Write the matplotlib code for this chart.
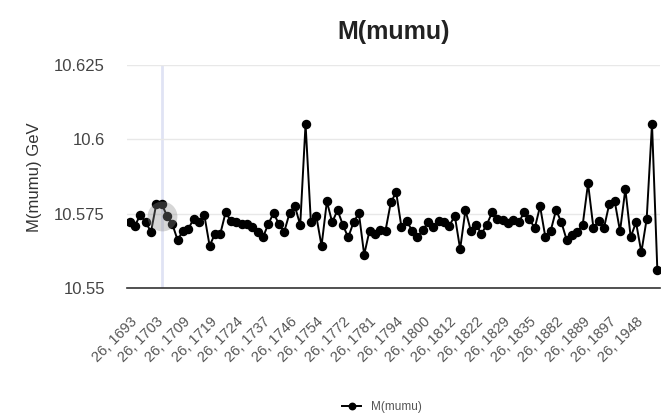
import matplotlib
matplotlib.use("Agg")
import matplotlib.pyplot as plt

# run labels shown on the x axis (every 5th point)
run_labels = ["26, 1693", "26, 1703", "26, 1709", "26, 1719", "26, 1724",
              "26, 1737", "26, 1746", "26, 1754", "26, 1772", "26, 1781",
              "26, 1794", "26, 1800", "26, 1812", "26, 1822", "26, 1829",
              "26, 1835", "26, 1882", "26, 1889", "26, 1897", "26, 1948"]
label_step = 5

# fitted dimuon mass per run (GeV)
mass = [10.5721, 10.5710, 10.5746, 10.5721, 10.5689, 10.5783, 10.5783, 10.5743, 10.5715, 10.5661,
        10.5693, 10.5699, 10.5732, 10.5721, 10.5746, 10.5642, 10.5682, 10.5682, 10.5754, 10.5726,
        10.5721, 10.5715, 10.5715, 10.5704, 10.5687, 10.5670, 10.5715, 10.5752, 10.5715, 10.5689,
        10.5752, 10.5775, 10.5712, 10.6052, 10.5721, 10.5743, 10.5642, 10.5791, 10.5721, 10.5762,
        10.5712, 10.5670, 10.5721, 10.5752, 10.5612, 10.5693, 10.5682, 10.5695, 10.5693, 10.5788,
        10.5822, 10.5704, 10.5724, 10.5693, 10.5670, 10.5695, 10.5721, 10.5704, 10.5724, 10.5721,
        10.5710, 10.5743, 10.5631, 10.5762, 10.5693, 10.5712, 10.5682, 10.5713, 10.5754, 10.5732,
        10.5729, 10.5719, 10.5730, 10.5721, 10.5754, 10.5732, 10.5701, 10.5775, 10.5670, 10.5693,
        10.5762, 10.5721, 10.5661, 10.5679, 10.5689, 10.5713, 10.5852, 10.5703, 10.5725, 10.5703,
        10.5784, 10.5792, 10.5691, 10.5833, 10.5671, 10.5721, 10.5620, 10.5732, 10.6052, 10.5561]

y_ticks = [10.55, 10.575, 10.6, 10.625]
y_tick_labels = ["10.55", "10.575", "10.6", "10.625"]

# hovered point (focus ring + crosshair)
hover_index = 6
hover_mass = 10.5743

plt.rcParams["font.family"] = ["Liberation Sans", "DejaVu Sans"]

fig = plt.figure(figsize=(6.64, 4.16), dpi=100)
ax = fig.add_axes([127 / 664, 1 - 288 / 416, 533 / 664, 223 / 416])

x = list(range(len(mass)))
ax.axvline(hover_index, color="#e0e3f4", lw=2, zorder=0)
ax.plot(x, mass, color="black", lw=1.4, marker="o", ms=5.8, label="M(mumu)", zorder=2)
ax.scatter([hover_index], [hover_mass], s=460, color="#8a8a8a", alpha=0.35,
           linewidths=0, zorder=3)

ax.set_xlim(-0.5, len(mass) - 0.5)
ax.set_ylim(y_ticks[0], y_ticks[-1])
ax.set_yticks(y_ticks)
ax.set_yticklabels(y_tick_labels)
ax.set_xticks(x[::label_step])
ax.set_xticklabels(run_labels)
ax.grid(axis="y", color="#e8e8e8", lw=1)
ax.set_axisbelow(True)

for side in ["top", "right", "left"]:
    ax.spines[side].set_visible(False)
ax.spines["bottom"].set_color("#333333")
ax.spines["bottom"].set_linewidth(1.2)

ax.tick_params(axis="y", length=0, pad=16, labelsize=12, labelcolor="#444444")
ax.tick_params(axis="x", length=0, pad=19, labelsize=10.5, labelcolor="#555555")
plt.setp(ax.get_xticklabels(), rotation=45, ha="right", va="top", rotation_mode="anchor")

fig.text(393.5 / 664, 1 - 32 / 416, "M(mumu)", ha="center", va="center",
         fontsize=18, fontweight="bold", color="#222222")
fig.text(35 / 664, 1 - 177 / 416, "M(mumu) GeV", ha="center", va="center",
         rotation=90, fontsize=12, color="#333333")

fig.legend(loc="center", bbox_to_anchor=(0.575, 0.022), frameon=False, fontsize=8.5,
           handlelength=1.6, markerscale=0.8, labelcolor="#555555")

fig.savefig("out.png", dpi=100)
